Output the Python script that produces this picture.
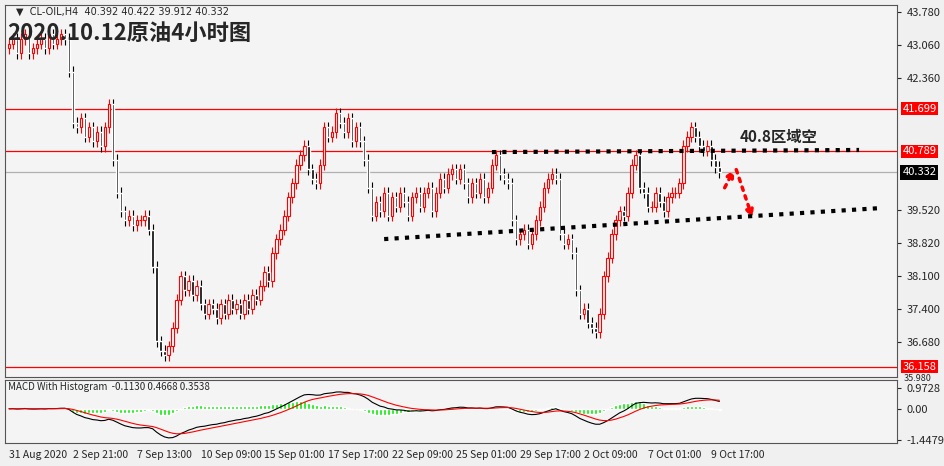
import numpy as np, pandas as pd, seaborn as sns, matplotlib
matplotlib.use("Agg")
import matplotlib.pyplot as plt

sns.set_style("white")
plt.rcParams['font.family'] = ['Noto Sans CJK SC', 'DejaVu Sans']

closes = [43.1,43.2,42.9,43.2,43.3,42.9,43.0,43.1,43.2,43.0,43.3,43.1,43.2,43.3,
          43.2,42.5,41.4,41.3,41.5,41.1,41.3,41.0,41.2,40.9,41.3,41.8,40.6,39.9,39.5,
          39.3,39.4,39.2,39.3,39.3,39.4,39.1,38.3,36.7,36.5,36.4,36.6,37.0,37.6,38.1,
          37.8,38.0,37.7,37.9,37.5,37.3,37.5,37.4,37.2,37.5,37.3,37.6,37.4,37.5,
          37.3,37.6,37.4,37.7,37.6,37.9,38.2,38.0,38.6,38.9,39.1,39.4,39.8,40.1,40.5,
          40.7,40.9,40.4,40.2,40.1,40.5,41.3,41.1,41.2,41.6,41.4,41.2,41.5,41.0,41.3,
          41.0,40.6,40.0,39.4,39.7,39.5,39.9,39.4,39.8,39.6,39.9,39.7,39.4,39.8,
          39.9,39.6,39.9,40.0,39.5,39.9,40.2,40.0,40.3,40.4,40.2,40.4,40.1,39.8,40.1,
          39.9,40.2,39.8,40.0,40.5,40.7,40.3,40.2,40.1,39.3,38.9,39.0,39.1,38.8,39.0,
          39.3,39.6,40.0,40.2,40.3,40.2,39.0,38.8,38.9,38.6,37.8,37.3,37.4,37.1,37.0,
          36.9,37.3,38.1,38.5,39.0,39.3,39.5,39.4,39.9,40.5,40.7,40.0,39.9,39.6,39.6,
          39.9,39.7,39.5,39.8,39.9,39.9,40.1,40.9,41.1,41.3,41.1,40.9,40.8,40.9,40.6,
          40.45,40.332]
first_open = 43.0
date_labels = ["31 Aug 2020","2 Sep 21:00","7 Sep 13:00","10 Sep 09:00","15 Sep 01:00",
               "17 Sep 17:00","22 Sep 09:00","25 Sep 01:00","29 Sep 17:00","2 Oct 09:00",
               "7 Oct 01:00","9 Oct 17:00"]
levels_red = [41.699, 40.789, 36.158]
last_price = 40.332

c = np.array(closes); n = len(c)
o = np.r_[first_open, c[:-1]]
hi = np.maximum(o, c) + 0.12
lo = np.minimum(o, c) - 0.12
idx = np.arange(n)

bg = "#f4f4f4"
fig = plt.figure(figsize=(9.44, 4.66), dpi=100, facecolor="#f0f0f0")
ax = fig.add_axes([5/944, 1-377/466, 892/944, 372/466], facecolor=bg)
mx = fig.add_axes([5/944, 1-443/466, 892/944, 63/466], facecolor=bg, sharex=ax)

up = c >= o
col = np.where(up, "red", "black")
ax.vlines(idx, lo, hi, colors=col, lw=0.8, zorder=3)
ax.bar(idx[up], (c-o)[up], bottom=o[up], width=0.6, facecolor=bg, edgecolor="red", lw=0.8, zorder=4)
ax.bar(idx[~up], (c-o)[~up], bottom=o[~up], width=0.6, color="black", zorder=4)

for lv in levels_red:
    ax.axhline(lv, color="red", lw=0.9, zorder=2)
ax.axhline(last_price, color="#b0b0b0", lw=0.9, zorder=1)

ax.set_xlim(-1, 222.5)
ax.set_ylim(35.937, 43.93)
ax.yaxis.tick_right()
ticks = [43.78, 43.06, 42.36, 39.52, 38.82, 38.10, 37.40, 36.68]
ax.set_yticks(ticks)
ax.set_yticklabels([f"{t:.3f}" for t in ticks], fontsize=8)
ax.text(1.008, 36.01, "35.980", transform=ax.get_yaxis_transform(), fontsize=6.5,
        va="top", clip_on=False)
for lv in levels_red:
    ax.text(1.006, lv, f"{lv:.3f}", transform=ax.get_yaxis_transform(), color="white",
            fontsize=8, va="center", bbox=dict(fc="red", ec="none", pad=1.2))
ax.text(1.006, last_price, f"{last_price:.3f}", transform=ax.get_yaxis_transform(), color="white",
        fontsize=8, va="center", bbox=dict(fc="black", ec="none", pad=1.5))
ax.tick_params(axis="x", labelbottom=False, length=0)
ax.tick_params(axis="y", length=3, pad=4)
for s in ax.spines.values(): s.set_color("#555"); s.set_linewidth(0.8)

ax.plot([121, 213], [40.77, 40.815], ls=(0, (1, 1.5)), lw=3, color="black", zorder=5)
ax.plot([94, 219], [38.90, 39.57], ls=(0, (1, 1.5)), lw=3, color="black", zorder=5)
ax.annotate("", xy=(182, 40.45), xytext=(179, 39.95),
            arrowprops=dict(arrowstyle="-|>", color="red", ls=":", lw=2.5))
ax.annotate("", xy=(186.5, 39.3), xytext=(182, 40.45),
            arrowprops=dict(arrowstyle="-|>", color="red", ls=":", lw=2.5))
ax.text(183, 41.10, "40.8区域空", fontsize=11, fontweight="bold", va="center")
ax.text(0.002, 0.955, "2020.10.12原油4小时图", transform=ax.transAxes, fontsize=16,
        fontweight="bold", va="top", zorder=6)
ax.text(0.012, 0.995, "▼  CL-OIL,H4  40.392 40.422 39.912 40.332", transform=ax.transAxes,
        fontsize=7, va="top", family=["DejaVu Sans"])

s = pd.Series(c)
macd = s.ewm(span=12, adjust=False).mean() - s.ewm(span=26, adjust=False).mean()
sig = macd.ewm(span=9, adjust=False).mean()
hist = macd - sig
mx.bar(idx, hist, width=0.8, color="#00ee00", zorder=2)
sns.lineplot(x=idx, y=macd.values, color="black", lw=0.8, ax=mx)
sns.lineplot(x=idx, y=sig.values, color="red", lw=0.8, ax=mx)
mx.set_ylim(-1.6, 1.35)
mx.yaxis.tick_right()
mx.set_yticks([0.9728, 0.0, -1.4479])
mx.set_yticklabels(["0.9728", "0.00", "-1.4479"], fontsize=8)
mx.tick_params(axis="y", length=3)
mx.text(0.003, 0.97, "MACD With Histogram  -0.1130 0.4668 0.3538", transform=mx.transAxes,
        fontsize=7, va="top")
pos = [k*16 for k in range(len(date_labels))]
mx.set_xticks(pos)
mx.set_xticklabels(date_labels, fontsize=7.5, ha="left")
mx.tick_params(axis="x", length=3, pad=2)
for s_ in mx.spines.values(): s_.set_color("#555"); s_.set_linewidth(0.8)

fig.savefig("out.png", dpi=100, facecolor=fig.get_facecolor())
